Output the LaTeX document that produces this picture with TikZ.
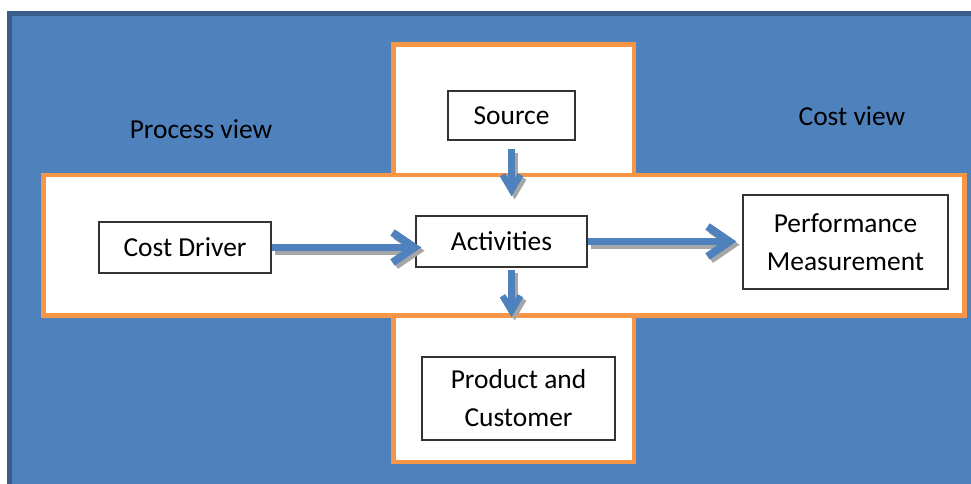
\documentclass[tikz,border=0pt]{standalone}
\usepackage{fontspec}
\setmainfont{Carlito}
\usetikzlibrary{arrows.meta}

\definecolor{panelblue}{HTML}{4F81BD}
\definecolor{panelline}{HTML}{385D8A}
\definecolor{viewline}{HTML}{F79646}

\begin{document}
\begin{tikzpicture}[x=0.025cm,y=-0.025cm]

\tikzset{box/.style = {shape=rectangle,draw=black!80,line width=0.85pt,fill=white,
  align=center,font=\fontsize{19.5}{27}\selectfont,inner sep=0pt}}
\tikzset{label/.style = {font=\fontsize{19.5}{27}\selectfont}}
\tikzset{view/.style = {draw=viewline,line width=3.5pt,fill=white}}
\tikzset{flow/.style = {draw=panelblue,line width=5.5pt,-{Straight Barb[length=0.55cm,width=0.75cm]}}}
\tikzset{smallflow/.style = {flow,line width=4.5pt,-{Straight Barb[length=0.38cm,width=0.45cm]}}}
\tikzset{shade/.style = {draw=black!35,transform canvas={shift={(0.08cm,-0.08cm)}}}}

\useasboundingbox (0,0) rectangle (971,484);
\clip (0,0) rectangle (971,484);

% background
\draw[panelline,line width=3.5pt,fill=panelblue] (9.5,13.5) rectangle (990,500);
\draw[view] (393.5,44.5) rectangle (634,462);
\draw[view] (43.5,175) rectangle (964.5,315.5);

% texts
\node[label] (pv) at (201,129) {Process view};
\node[label] (cv) at (852,116) {Cost view};

% boxes
\node[box,minimum width=3.175cm,minimum height=1.225cm] (src) at (511.5,115.5) {Source};
\node[box,minimum width=4.3cm,minimum height=1.275cm] (cd) at (185,247.5) {Cost Driver};
\node[box,minimum width=4.275cm,minimum height=1.275cm] (act) at (501.5,241.5) {Activities};
\node[box,minimum width=5.125cm,minimum height=2.35cm] (perf) at (845.5,242) {Performance\\Measurement};
\node[box,minimum width=4.825cm,minimum height=2.075cm] (prod) at (518.5,398.5) {Product and\\Customer};

% arrows, shadow first
\foreach \s in {shade,} {
  \draw[flow,\s,shorten >=-0.15cm] (cd.east) -- (cd.east -| act.west);
  \draw[flow,\s,shorten >=0.15cm] (act.east |- cd.east) ++(0,-6) -- (perf.west |- act.east);
  \draw[smallflow,\s,shorten <=0.22cm,shorten >=0.48cm] (src.south) -- (src.south |- act.north);
  \draw[smallflow,\s,shorten <=0.05cm,shorten >=0.98cm] (act.south -| src.south) -- (prod.north -| src.south);
}
\end{tikzpicture}
\end{document}
